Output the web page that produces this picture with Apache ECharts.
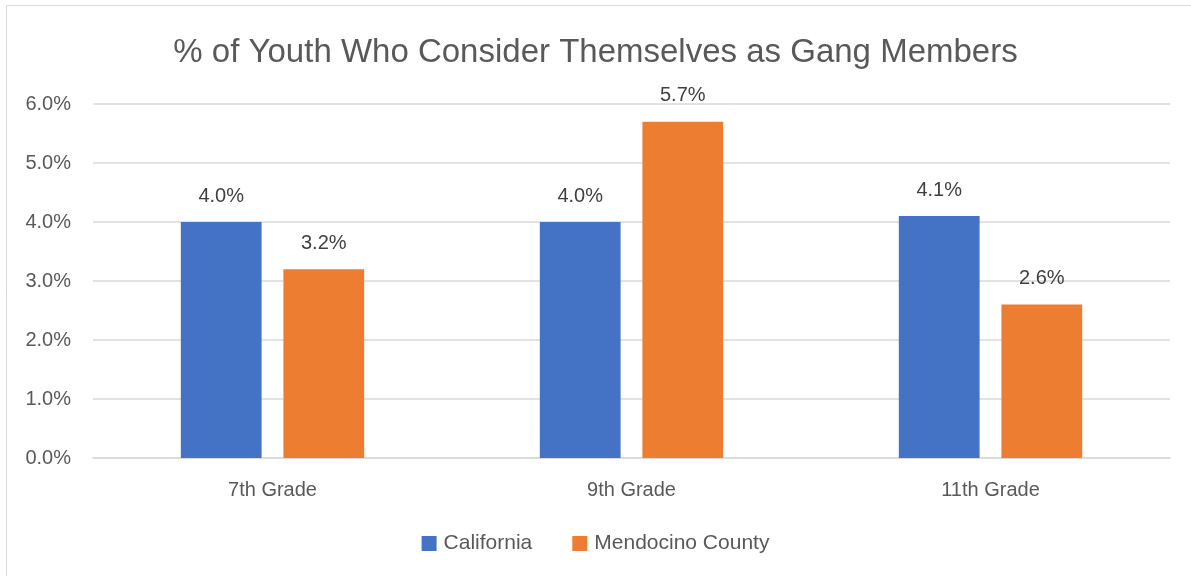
<!DOCTYPE html>
<html><head><meta charset="utf-8">
<script src="https://cdn.jsdelivr.net/npm/echarts@6/dist/echarts.min.js"></script>
<style>html,body{margin:0;padding:0;background:#fff}#c{width:1191px;height:576px}</style>
</head><body><div id="c"></div>
<script>
const categories = ['7th Grade', '9th Grade', '11th Grade'];
const california = [4.0, 4.0, 4.1];
const mendocino = [3.2, 5.7, 2.6];
const seriesNames = ['California', 'Mendocino County'];
const titleText = '% of Youth Who Consider Themselves as Gang Members';
const FONT = 'Liberation Sans, Arial, sans-serif';
const chart = echarts.init(document.getElementById('c'));
const lbl = {show:true, position:'top', distance:16, color:'#404040', fontSize:20, fontFamily:FONT, formatter: p => p.value.toFixed(1) + '%'};
chart.setOption({
  animation:false,
  graphic:[{type:'rect', shape:{x:6.5,y:5.5,width:1300,height:700}, style:{fill:null, stroke:'#d9d9d9', lineWidth:1}, silent:true}],
  title:{text:titleText, left:'center', top:31, textStyle:{color:'#595959', fontSize:33, fontWeight:'normal', fontFamily:FONT}},
  legend:{bottom:17, left:'center', itemWidth:15, itemHeight:15, itemGap:40, icon:'rect', textStyle:{color:'#595959', fontSize:21, fontFamily:FONT, padding:[0,0,0,2]}, data:seriesNames},
  grid:{left:93, right:21, top:104, bottom:118, containLabel:false},
  xAxis:{type:'category', data:categories, axisTick:{show:false}, axisLine:{lineStyle:{color:'#d9d9d9', width:1.5}}, axisLabel:{color:'#595959', fontSize:20, fontFamily:FONT, margin:22}},
  yAxis:{type:'value', min:0, max:6, interval:1, axisLabel:{color:'#595959', fontSize:20, fontFamily:FONT, margin:22, formatter: v => v.toFixed(1) + '%'}, splitLine:{lineStyle:{color:'#d9d9d9', width:1.5}}, axisLine:{show:false}, axisTick:{show:false}},
  series:[
    {name:seriesNames[0], type:'bar', data:california, itemStyle:{color:'#4472C4'}, barWidth:'22.5%', barGap:'27%', barCategoryGap:'48.7%', label:lbl},
    {name:seriesNames[1], type:'bar', data:mendocino, itemStyle:{color:'#ED7D31'}, barWidth:'22.5%', label:lbl}
  ]
});
</script></body></html>
